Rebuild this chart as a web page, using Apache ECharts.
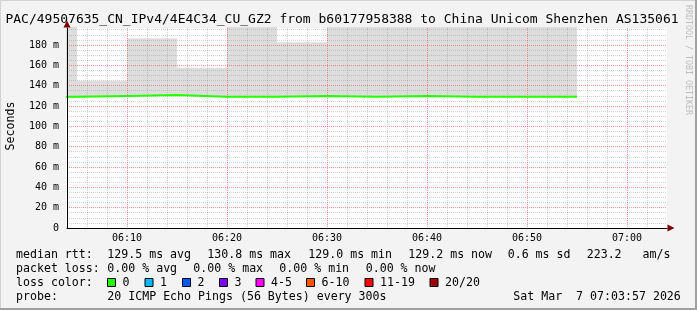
<!DOCTYPE html>
<html><head><meta charset="utf-8">
<script src="https://cdn.jsdelivr.net/npm/echarts@6/dist/echarts.min.js"></script>
<style>html,body{margin:0;padding:0;background:#f3f3f3;}#c{width:697px;height:310px;}</style>
</head><body><div id="c"></div>
<script>
// ---- data ----
const endTimes   = ['06:05','06:10','06:15','06:20','06:25','06:30','06:35','06:40','06:45','06:50','06:55'];
const medianMs   = [129.0, 129.9, 130.8, 129.0, 129.1, 129.9, 129.1, 129.8, 129.1, 129.0, 129.2];
const smokeMinMs = [128.4, 129.2, 130.1, 128.4, 128.5, 129.2, 128.5, 129.1, 128.5, 128.4, 128.6];
const smokeMaxMs = [230, 144.9, 186.6, 157.7, 215, 182.6, 240, 225, 250, 210, 235];
const stepMinutes = 5;
const viewStart = '06:04';
const viewEnd = '07:04';
const xTickLabels = ['06:10','06:20','06:30','06:40','06:50','07:00'];
const yTickValues = [0, 20, 40, 60, 80, 100, 120, 140, 160, 180];
const yMax = 196.7;
const medianStats = [129.5, 130.8, 129.0, 129.2];   // avg max min now
const medianSd = 0.6;
const amPerS = 223.2;
const lossStats = [0.00, 0.00, 0.00, 0.00];          // avg max min now
const lossLabels = ['0','1','2','3','4-5','6-10','11-19','20/20'];
const lossColors = ['#26ff00','#00b8ff','#0059ff','#7e00ff','#ff00ff','#ff5500','#ff0000','#a10000'];
const titleText = 'PAC/49507635_CN_IPv4/4E4C34_CU_GZ2 from b60177958388 to China Unicom Shenzhen AS135061';
const probeText = '20 ICMP Echo Pings (56 Bytes) every 300s';
const dateText = 'Sat Mar  7 07:03:57 2026';

// ---- helpers ----
function toMin(s){const p=s.split(':').map(Number);return p[0]*60+p[1]+(p[2]||0)/60;}
function fmt(m){const h=Math.floor(m/60), mm=Math.round(m-h*60);return String(h).padStart(2,'0')+':'+String(mm).padStart(2,'0');}

const xs = endTimes.map(toMin);
const startX = xs[0] - stepMinutes;
const pts = arr => [[startX, arr[0]]].concat(xs.map((x,i)=>[x, arr[i]]));

const xMin = toMin(viewStart), xMax = toMin(viewEnd);
const majorX = xTickLabels.map(toMin);
const minorX = [];
for (let m = xMin + 2; m < xMax; m += 2) if (majorX.indexOf(m) < 0) minorX.push(m);
const majorY = yTickValues.filter(v => v > 0);
const minorY = [];
for (let v = 5; v < yMax; v += 5) if (v % 20 !== 0) minorY.push(v);

const FONT = "'DejaVu Sans Mono', monospace";
const minorColor = 'rgba(120,120,120,0.3)';
const majorColor = 'rgba(255,0,0,0.38)';

// ---- legend text ----
const graphics = [];
function txt(t, x, y, size, extra){
  graphics.push(Object.assign({type:'text', x:x, y:y, silent:true,
    style:{text:t, font: size + 'px ' + FONT, fill:'#000', align:'left', verticalAlign:'middle',
           textAlign:'left', textVerticalAlign:'middle'}}, extra||{}));
}
const f1 = v => v.toFixed(1), f2 = v => v.toFixed(2);
const LS = 11.6;
txt('median rtt:', 16, 255, LS);
txt(f1(medianStats[0])+' ms avg', 107.3, 255, LS);
txt(f1(medianStats[1])+' ms max', 207.3, 255, LS);
txt(f1(medianStats[2])+' ms min', 308.3, 255, LS);
txt(f1(medianStats[3])+' ms now', 408.3, 255, LS);
txt(f1(medianSd)+' ms sd', 507.7, 255, LS);
txt(f1(amPerS)+'   am/s', 586.7, 255, LS);
txt('packet loss:', 16, 269, LS);
txt(f2(lossStats[0])+' % avg', 107.3, 269, LS);
txt(f2(lossStats[1])+' % max', 193.3, 269, LS);
txt(f2(lossStats[2])+' % min', 279.3, 269, LS);
txt(f2(lossStats[3])+' % now', 365.7, 269, LS);
txt('loss color:', 16, 283, LS);
const boxX = [107.5, 145, 182.5, 219.5, 256, 306.5, 365, 430];
lossLabels.forEach((l,i)=>{
  graphics.push({type:'rect', silent:true, shape:{x:boxX[i], y:278.5, width:8, height:8},
    style:{fill:lossColors[i], stroke:'#000', lineWidth:1}});
  txt(l, boxX[i]+15, 283, LS);
});
txt('probe:', 16, 297, LS);
txt(probeText, 107.3, 297, LS);
txt(dateText, 513.3, 297, LS);
const centered = (t, size, fill) => ({text:t, font:size+'px '+FONT, fill:fill||'#000', align:'center', verticalAlign:'middle', textAlign:'center', textVerticalAlign:'middle'});
txt(titleText, 342, 19.5, 13, {style:centered(titleText, 13)});
txt('Seconds', 10.7, 126, LS, {rotation:Math.PI/2, style:centered('Seconds', LS)});
txt('RRDTOOL / TOBI OETIKER', 688.5, 60, 8.3, {rotation:-Math.PI/2, style:centered('RRDTOOL / TOBI OETIKER', 8.3, '#bdbdbd')});
// frame
graphics.push({type:'rect', silent:true, shape:{x:0,y:0,width:697,height:1}, style:{fill:'#d2d2d2'}});
graphics.push({type:'rect', silent:true, shape:{x:0,y:0,width:1,height:310}, style:{fill:'#d2d2d2'}});
graphics.push({type:'rect', silent:true, shape:{x:0,y:308,width:697,height:2}, style:{fill:'#a0a0a0'}});
graphics.push({type:'rect', silent:true, shape:{x:695,y:0,width:2,height:310}, style:{fill:'#a0a0a0'}});

const gridPos = {left:67, top:28, width:600, height:200};
const axisFont = {fontFamily:FONT, fontSize:10, color:'#000'};
function gridAxis(gi, min, max, custom, color){
  return {type:'value', gridIndex:gi, min:min, max:max, z:3,
    axisLine:{show:false}, axisTick:{show:false, customValues:custom}, axisLabel:{show:false, customValues:custom},
    splitLine:{show:true, lineStyle:{color:color, width:1, type:[1,1]}}};
}

const chart = echarts.init(document.getElementById('c'), null, {renderer:'canvas'});
chart.setOption({
  animation:false,
  backgroundColor:'#f3f3f3',
  grid:[
    Object.assign({show:true, backgroundColor:'#ffffff', borderWidth:0, containLabel:false}, gridPos),
    Object.assign({show:false, containLabel:false}, gridPos),
    Object.assign({show:false, containLabel:false}, gridPos),
    Object.assign({show:false, containLabel:false}, gridPos)
  ],
  xAxis:[
    {type:'value', gridIndex:0, min:xMin, max:xMax, z:6,
     axisLine:{show:true, lineStyle:{color:'#000', width:1}},
     axisTick:{show:false},
     splitLine:{show:false},
     axisLabel:Object.assign({customValues:majorX, formatter:fmt, margin:5}, axisFont)},
    {type:'value', gridIndex:1, min:xMin, max:xMax, z:6,
     axisLine:{show:true, symbol:['none','triangle'], symbolSize:[7,7], symbolOffset:[0,4],
               lineStyle:{color:'#7a0000', width:0}},
     axisTick:{show:false}, axisLabel:{show:false}, splitLine:{show:false}},
    gridAxis(2, xMin, xMax, minorX, minorColor),
    gridAxis(3, xMin, xMax, majorX, majorColor)
  ],
  yAxis:[
    {type:'value', gridIndex:0, min:0, max:yMax, z:6,
     axisLine:{show:true, lineStyle:{color:'#000', width:1}},
     axisTick:{show:false},
     splitLine:{show:false},
     axisLabel:Object.assign({customValues:yTickValues, formatter:v=>v===0?'0':v+' m', margin:8}, axisFont)},
    {type:'value', gridIndex:1, min:0, max:yMax, z:6,
     axisLine:{show:true, symbol:['none','triangle'], symbolSize:[7,7], symbolOffset:[0,4],
               lineStyle:{color:'#7a0000', width:0}},
     axisTick:{show:false}, axisLabel:{show:false}, splitLine:{show:false}},
    gridAxis(2, 0, yMax, minorY, minorColor),
    gridAxis(3, 0, yMax, majorY, majorColor)
  ],
  series:[
    {type:'line', name:'smokeMax', xAxisIndex:0, yAxisIndex:0, step:'start',
     data:pts(smokeMaxMs), symbol:'none', lineStyle:{opacity:0}, areaStyle:{color:'#dddddd', opacity:1}, silent:true, z:2},
    {type:'line', name:'smokeMin', xAxisIndex:0, yAxisIndex:0, step:'start',
     data:pts(smokeMinMs), symbol:'none', lineStyle:{opacity:0}, areaStyle:{color:'#ffffff', opacity:1}, silent:true, z:2},
    {type:'line', name:'median', xAxisIndex:0, yAxisIndex:0, step:'start', data:pts(medianMs),
     symbol:'none', lineStyle:{color:'#26ff00', width:2}, silent:true, z:5}
  ],
  graphic:graphics
});
</script></body></html>
